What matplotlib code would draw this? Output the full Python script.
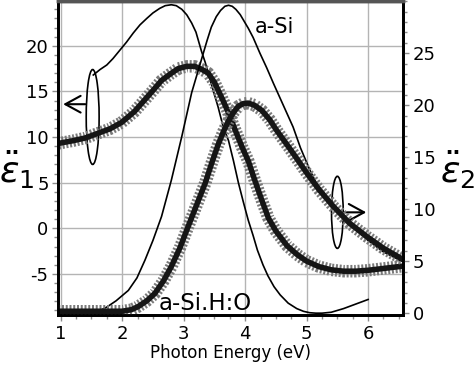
import matplotlib
matplotlib.use('Agg')
import matplotlib.pyplot as plt
from matplotlib.patches import Ellipse
from matplotlib.ticker import MultipleLocator

plt.rcParams['font.family'] = ['DejaVu Sans']
plt.rcParams['mathtext.fontset'] = 'dejavusans'
plt.rcParams['axes.unicode_minus'] = False

# a-Si, eps1 (thin line, left axis)
asi_e1_x = [1.53, 1.64, 1.75, 1.85, 1.96, 2.07, 2.18, 2.29, 2.40, 2.50, 2.61, 2.70,
            2.80, 2.88, 2.97, 3.05, 3.13, 3.20, 3.29, 3.35, 3.45, 3.56, 3.64, 3.73,
            3.81, 3.89, 3.97, 4.05, 4.13, 4.20, 4.29, 4.37, 4.47, 4.57, 4.70, 4.84,
            4.95, 5.05, 5.15, 5.25, 5.40, 5.60, 5.80, 6.00]
asi_e1_y = [16.8, 17.4, 17.9, 18.6, 19.5, 20.4, 21.4, 22.3, 23.0, 23.6, 24.1, 24.4,
            24.5, 24.4, 24.0, 23.4, 22.5, 21.5, 19.4, 18.2, 15.8, 13.3, 11.2, 9.6,
            7.4, 5.0, 2.9, 0.9, -0.8, -2.4, -4.0, -5.2, -6.4, -7.3, -8.2, -8.8,
            -9.1, -9.25, -9.3, -9.3, -9.2, -8.8, -8.3, -7.8]

# a-Si, eps2 (thin line, right axis)
asi_e2_x = [0.96, 1.30, 1.55, 1.65, 1.75, 1.90, 2.10, 2.24, 2.37, 2.50, 2.64, 2.80,
            2.97, 3.13, 3.29, 3.38, 3.45, 3.53, 3.60, 3.67, 3.73, 3.79, 3.85, 3.92,
            3.98, 4.05, 4.13, 4.24, 4.35, 4.46, 4.62, 4.78, 4.90, 5.05, 5.15, 5.30,
            5.50, 5.75, 6.00, 6.25, 6.55]
asi_e2_y = [0.1, 0.1, 0.15, 0.3, 0.6, 1.2, 2.2, 3.4, 5.1, 7.0, 9.3, 12.8,
            17.0, 21.2, 24.4, 26.2, 27.5, 28.5, 29.1, 29.5, 29.6, 29.5, 29.2, 28.7,
            28.1, 27.4, 26.5, 25.0, 23.6, 22.1, 20.0, 17.9, 15.9, 13.8, 12.6, 11.4,
            10.0, 8.3, 7.0, 5.9, 5.0]

# a-Si:H:O, eps1 (thick marker curve, left axis)
asiho_e1_x = [0.96, 1.20, 1.40, 1.56, 1.80, 1.99, 2.20, 2.37, 2.50, 2.64, 2.78, 2.91,
              3.05, 3.18, 3.30, 3.40, 3.50, 3.62, 3.72, 3.83, 3.95, 4.05, 4.16, 4.27,
              4.38, 4.50, 4.68, 4.85, 5.00, 5.20, 5.40, 5.60, 5.80, 6.00, 6.25, 6.56]
asiho_e1_y = [9.3, 9.6, 9.9, 10.3, 10.9, 11.6, 12.8, 14.1, 15.1, 16.2, 16.9, 17.5,
              17.75, 17.75, 17.4, 17.0, 16.0, 14.3, 12.8, 10.9, 8.9, 7.4, 5.2, 3.1,
              1.1, -0.3, -1.9, -2.9, -3.6, -4.2, -4.55, -4.7, -4.7, -4.6, -4.4, -4.15]

# a-Si:H:O, eps2 (thick marker curve, right axis)
asiho_e2_x = [0.96, 1.50, 2.00, 2.15, 2.26, 2.40, 2.53, 2.67, 2.80, 2.94, 3.07, 3.21,
              3.35, 3.46, 3.56, 3.65, 3.73, 3.81, 3.89, 3.97, 4.05, 4.15, 4.27, 4.40,
              4.51, 4.62, 4.73, 4.86, 5.00, 5.20, 5.43, 5.70, 5.98, 6.25, 6.56]
asiho_e2_y = [0.2, 0.2, 0.2, 0.35, 0.65, 1.2, 1.9, 3.1, 4.5, 6.3, 8.3, 10.4,
              12.5, 14.5, 16.2, 17.5, 18.5, 19.3, 19.9, 20.15, 20.2, 20.0, 19.5, 18.6,
              17.6, 16.7, 15.8, 14.7, 13.5, 11.9, 10.3, 8.65, 7.37, 6.25, 5.2]

x_ticks = [1, 2, 3, 4, 5, 6]
e1_ticks = [-5, 0, 5, 10, 15, 20]
e2_ticks = [0, 5, 10, 15, 20, 25]


def thick_curve(ax, x, y):
    # hatched look of the dense marker series
    ax.plot(x, y, color='#7a7a7a', lw=9, dashes=(0.16, 0.14), dash_capstyle='butt')
    ax.plot(x, y, color='#151515', lw=4, solid_capstyle='round')


fig = plt.figure(figsize=(4.74, 3.65), dpi=100)
ax = fig.add_axes([0.123, 0.137, 0.727, 0.860])
ax2 = ax.twinx()

ax.set_axisbelow(True)
ax.grid(True, color='#b4b4b4', lw=1)

ax.plot(asi_e1_x, asi_e1_y, color='black', lw=1.2)
thick_curve(ax, asiho_e1_x, asiho_e1_y)
ax2.plot(asi_e2_x, asi_e2_y, color='black', lw=1.2)
thick_curve(ax2, asiho_e2_x, asiho_e2_y)

ax.set_xlim(0.961, 6.566)
ax.set_ylim(-9.5, 24.9)
ax2.set_ylim(-0.16, 30.0)

ax.set_xticks(x_ticks)
ax.set_yticks(e1_ticks)
ax2.set_yticks(e2_ticks)
ax.xaxis.set_minor_locator(MultipleLocator(0.25))
ax.yaxis.set_minor_locator(MultipleLocator(1))
ax2.yaxis.set_minor_locator(MultipleLocator(1))

for a in (ax, ax2):
    a.tick_params(which='both', direction='out', color='#8c8c8c', width=1, labelsize=13)
    a.tick_params(which='major', length=4, pad=3)
    a.tick_params(which='minor', length=3)
    for side in ('left', 'right', 'bottom'):
        a.spines[side].set_linewidth(2)
        a.spines[side].set_color('black')
    a.spines['top'].set_linewidth(2.5)
    a.spines['top'].set_color('#555555')

ax.set_xlabel('Photon Energy (eV)', fontsize=12, labelpad=1)

fig.text(0.035, 0.535, r'$\ddot{\varepsilon}_1$', fontsize=26, ha='center', va='center')
fig.text(0.965, 0.535, r'$\ddot{\varepsilon}_2$', fontsize=26, ha='center', va='center')

ax.text(4.16, 21.36, 'a-Si', fontsize=15, ha='left', va='baseline')
ax.text(2.59, -8.95, 'a-Si.H:O', fontsize=16.5, ha='left', va='baseline')

ax.add_patch(Ellipse((1.52, 12.2), 0.21, 10.4, fill=False, lw=1.2, color='black'))
ax.add_patch(Ellipse((5.50, 1.75), 0.19, 7.9, fill=False, lw=1.2, color='black'))
ax.annotate('', xy=(1.04, 13.6), xytext=(1.40, 13.6),
            arrowprops=dict(arrowstyle='->,head_length=0.55,head_width=0.3',
                            lw=1.5, color='black', mutation_scale=20, shrinkA=0, shrinkB=0))
ax.annotate('', xy=(5.97, 1.75), xytext=(5.60, 1.75),
            arrowprops=dict(arrowstyle='->,head_length=0.55,head_width=0.3',
                            lw=1.5, color='black', mutation_scale=20, shrinkA=0, shrinkB=0))

fig.savefig('out.png', dpi=100)
